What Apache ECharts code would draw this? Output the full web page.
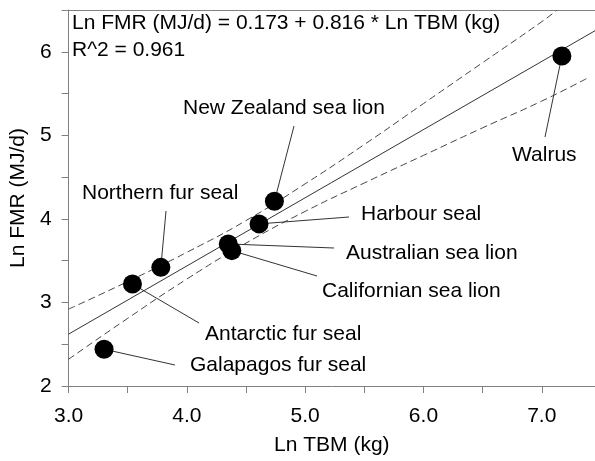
<!DOCTYPE html>
<html><head><meta charset="utf-8">
<script src="https://cdn.jsdelivr.net/npm/echarts@6/dist/echarts.min.js"></script>
<style>html,body{margin:0;padding:0;background:#fff}#c{width:595px;height:461px}</style>
</head><body><div id="c"></div>
<script>
// ---- data ----
const species = ['Galapagos fur seal','Antarctic fur seal','Northern fur seal','Australian sea lion','Californian sea lion','Harbour seal','New Zealand sea lion','Walrus'];
const lnTBM = [3.30, 3.54, 3.78, 4.35, 4.38, 4.61, 4.74, 7.17];
const lnFMR = [2.44, 3.22, 3.42, 3.70, 3.62, 3.94, 4.21, 5.95];
const fitX = [3.0, 7.45];
const fitY = [2.621, 6.252];
const upperX = [3.0, 3.5, 4.0, 4.5, 5.0, 5.5, 6.0, 6.5, 7.0, 7.13];
const upperY = [2.92, 3.25, 3.60, 3.98, 4.42, 4.89, 5.38, 5.87, 6.36, 6.50];
const lowerX = [3.0, 3.5, 4.0, 4.5, 5.0, 5.5, 6.0, 6.5, 7.0, 7.38];
const lowerY = [2.32, 2.81, 3.28, 3.71, 4.09, 4.43, 4.76, 5.09, 5.41, 5.68];
const xTickLabels = [3, 4, 5, 6, 7];
const yTickLabels = [2, 3, 4, 5, 6];
const equationText = 'Ln FMR (MJ/d) = 0.173 + 0.816 * Ln TBM (kg)';
const r2Text = 'R^2 = 0.961';
const xName = 'Ln TBM (kg)';
const yName = 'Ln FMR (MJ/d)';

// ---- layout (pixels) for the annotation labels: text left/middle and leader end ----
const labelPos = [
  {tx:190, ty:365, lx:175, ly:365},
  {tx:205, ty:334, lx:199, ly:323},
  {tx:82,  ty:193, lx:166, ly:211},
  {tx:346, ty:253, lx:334, ly:248},
  {tx:322, ty:291, lx:317, ly:276},
  {tx:361, ty:214, lx:349, ly:217},
  {tx:183, ty:108, lx:294, ly:126},
  {tx:512, ty:155, lx:545, ly:137}
];

const FONT = "'Liberation Sans', Arial, Helvetica, sans-serif";
const GRAY = '#808080';
const chart = echarts.init(document.getElementById('c'), null, {renderer:'canvas'});

const pairs = (xs, ys) => xs.map((x, i) => [x, ys[i]]);
const isTick = (list, v) => list.some(t => Math.abs(t - v) < 1e-9);

chart.setOption({
  animation: false,
  backgroundColor: '#fff',
  textStyle: {fontFamily: FONT},
  grid: {left: 67, right: 0, top: 10, bottom: 74},
  xAxis: [{
    type: 'value', min: 3, max: 7.45, interval: 0.5,
    axisLine: {show: true, onZero: false, lineStyle: {color: GRAY, width: 1}},
    axisTick: {show: true, length: 7, lineStyle: {color: GRAY}},
    splitLine: {show: false},
    axisLabel: {
      margin: 20, fontSize: 21, color: '#000', fontFamily: FONT, showMaxLabel: false,
      formatter: v => isTick(xTickLabels, v) ? v.toFixed(1) : ''
    },
    name: xName, nameLocation: 'middle', nameGap: 49,
    nameTextStyle: {fontSize: 21, color: '#000', fontFamily: FONT}
  }, {
    type: 'value', position: 'top', min: 3, max: 7.45, interval: 0.5,
    axisLine: {show: true, onZero: false, lineStyle: {color: GRAY, width: 1}},
    axisTick: {show: false}, axisLabel: {show: false}, splitLine: {show: false}
  }],
  yAxis: {
    type: 'value', min: 2, max: 6.5, interval: 0.5,
    axisLine: {show: true, onZero: false, lineStyle: {color: GRAY, width: 1}},
    axisTick: {show: true, length: 7, lineStyle: {color: GRAY}},
    splitLine: {show: false},
    axisLabel: {
      margin: 17, fontSize: 21, color: '#000', fontFamily: FONT,
      formatter: v => isTick(yTickLabels, v) ? String(v) : ''
    },
    name: yName, nameLocation: 'middle', nameGap: 35, nameRotate: 90,
    nameTextStyle: {fontSize: 21, color: '#000', fontFamily: FONT}
  },
  series: [
    {type: 'line', data: pairs(fitX, fitY), symbol: 'none', silent: true,
     lineStyle: {color: '#333', width: 1}, z: 2},
    {type: 'line', data: pairs(upperX, upperY), symbol: 'none', smooth: true, silent: true,
     lineStyle: {color: '#444', width: 1, type: [7, 4]}, z: 2},
    {type: 'line', data: pairs(lowerX, lowerY), symbol: 'none', smooth: true, silent: true,
     lineStyle: {color: '#444', width: 1, type: [7, 4]}, z: 2},
    {type: 'scatter', data: pairs(lnTBM, lnFMR), symbol: 'circle', symbolSize: 19,
     itemStyle: {color: '#000', opacity: 1}, z: 5}
  ]
});

const g = [];
species.forEach((name, i) => {
  const p = chart.convertToPixel({gridIndex: 0}, [lnTBM[i], lnFMR[i]]);
  const L = labelPos[i];
  g.push({type: 'line', silent: true, z: 3,
    shape: {x1: p[0], y1: p[1], x2: L.lx, y2: L.ly},
    style: {stroke: '#333', lineWidth: 1}});
  g.push({type: 'text', silent: true, z: 6, x: L.tx, y: L.ty,
    style: {text: name, fontSize: 21, fontFamily: FONT, fill: '#000', textAlign: 'left', textVerticalAlign: 'middle'}});
});
g.push({type: 'text', silent: true, z: 6, x: 72, y: 23,
  style: {text: equationText, fontSize: 21, fontFamily: FONT, fill: '#000', textAlign: 'left', textVerticalAlign: 'middle'}});
g.push({type: 'text', silent: true, z: 6, x: 72, y: 50,
  style: {text: r2Text, fontSize: 21, fontFamily: FONT, fill: '#000', textAlign: 'left', textVerticalAlign: 'middle'}});
chart.setOption({graphic: g});
</script>
</body></html>
